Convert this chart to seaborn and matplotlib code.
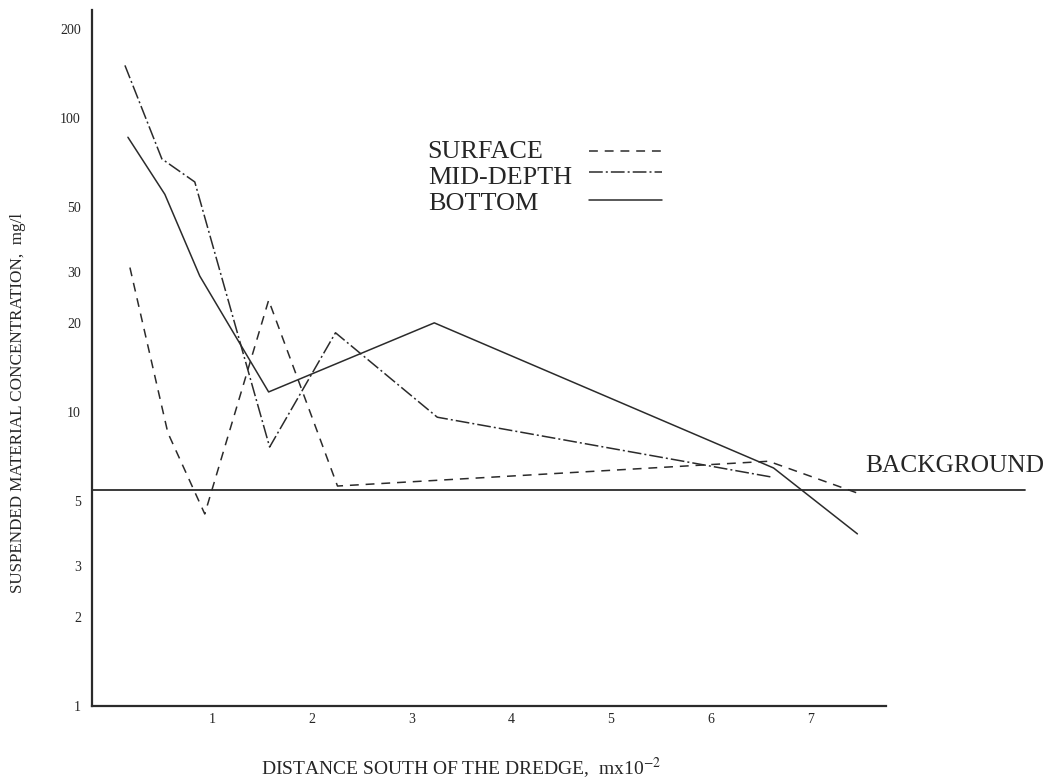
import pandas as pd
import matplotlib
matplotlib.use("Agg")
import matplotlib.pyplot as plt
import seaborn as sns

# values (distance in m x 10^-2, concentration in mg/l)
levels = ["SURFACE", "MID-DEPTH", "BOTTOM"]
surface_x = [0.18, 0.56, 0.93, 1.57, 2.26, 6.58, 7.47]
surface_y = [31.0, 8.5, 4.5, 24.0, 5.6, 6.8, 5.3]
middepth_x = [0.13, 0.50, 0.83, 1.58, 2.24, 3.26, 6.62]
middepth_y = [151.0, 72.6, 60.6, 7.6, 18.6, 9.6, 6.0]
bottom_x = [0.16, 0.53, 0.88, 1.57, 3.23, 6.63, 7.47]
bottom_y = [86.0, 55.0, 29.0, 11.7, 20.1, 6.45, 3.85]
background = 5.43

x_ticks = [1, 2, 3, 4, 5, 6, 7]
y_ticks = [1, 2, 3, 5, 10, 20, 30, 50, 100, 200]

ink = "#2b2b2b"
line_dashes = {"SURFACE": (5.8, 4.5), "MID-DEPTH": (9, 2, 1.3, 2), "BOTTOM": ""}

df = pd.concat([
    pd.DataFrame({"distance": surface_x, "conc": surface_y, "level": "SURFACE"}),
    pd.DataFrame({"distance": middepth_x, "conc": middepth_y, "level": "MID-DEPTH"}),
    pd.DataFrame({"distance": bottom_x, "conc": bottom_y, "level": "BOTTOM"}),
])

sns.set_style("white")
plt.rcParams["font.family"] = ["Liberation Serif", "DejaVu Serif"]
plt.rcParams["mathtext.fontset"] = "stix"

fig = plt.figure(figsize=(10.54, 7.81), dpi=100)
ax = fig.add_axes([92 / 1054, 75 / 781, 962 / 1054, 696 / 781])

sns.lineplot(data=df, x="distance", y="conc", style="level", style_order=levels,
             dashes=line_dashes, color=ink, linewidth=1.1, estimator=None,
             sort=False, legend=False, ax=ax)

ax.axhline(background, xmin=0, xmax=(1025 - 92) / 962, color=ink, linewidth=1.3)

ax.set_yscale("log")
ax.set_ylim(1, 233)
ax.set_xlim(-0.2, 9.44)
ax.set_yticks(y_ticks)
ax.set_yticklabels([str(v) for v in y_ticks])
ax.yaxis.set_minor_locator(matplotlib.ticker.NullLocator())
ax.set_xticks(x_ticks)
ax.set_xticklabels([str(v) for v in x_ticks])

for side in ["top", "right"]:
    ax.spines[side].set_visible(False)
for side in ["left", "bottom"]:
    ax.spines[side].set_color(ink)
    ax.spines[side].set_linewidth(1.6)
ax.spines["bottom"].set_bounds(-0.2, 7.76)

ax.tick_params(axis="x", direction="in", length=10, width=1.6, color=ink, pad=5, labelsize=10)
ax.tick_params(axis="y", direction="out", length=6, width=1.3, color=ink, pad=2, labelsize=10)

ax.set_xlabel("DISTANCE SOUTH OF THE DREDGE,  mx10$^{-2}$", fontsize=14)
ax.xaxis.label.set_va("center")
ax.xaxis.set_label_coords(0.384, -0.089)
ax.set_ylabel("SUSPENDED MATERIAL CONCENTRATION,  mg/l", fontsize=12.3)
ax.yaxis.label.set_va("center")
ax.yaxis.set_label_coords(-0.077, 0.435)

# hand-drawn style key, text left aligned and line samples to the right
key_text_y = [0.787, 0.750, 0.713]
key_line_y = [0.797, 0.767, 0.727]
for name, ty, ly in zip(levels, key_text_y, key_line_y):
    ax.text(0.349, ty, name, transform=ax.transAxes, fontsize=18.8, va="baseline", ha="left")
    ax.plot([0.517, 0.593], [ly, ly], transform=ax.transAxes, color=ink, linewidth=1.1,
            dashes=line_dashes[name] if line_dashes[name] else (None, None))

ax.text(0.8035, 0.336, "BACKGROUND", transform=ax.transAxes, fontsize=18.3, va="baseline", ha="left")

plt.savefig("out.png", dpi=100)
